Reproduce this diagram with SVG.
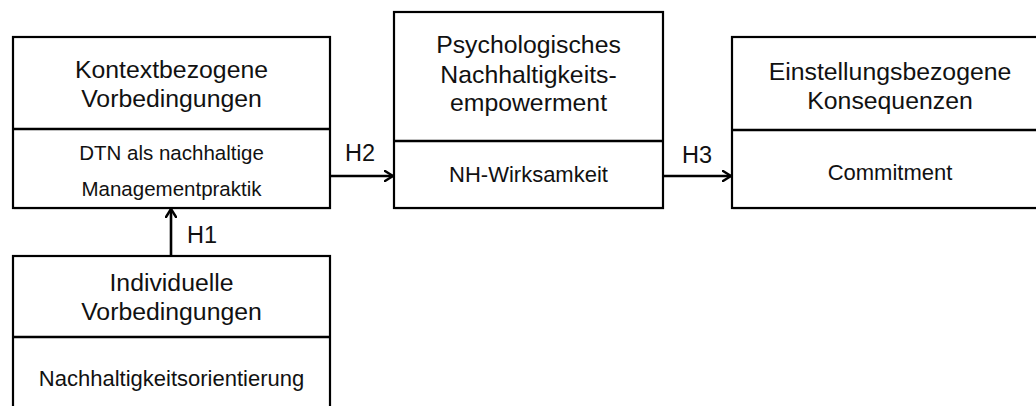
<svg xmlns="http://www.w3.org/2000/svg" width="1036" height="406" viewBox="0 0 1036 406">
  <defs>
    <marker id="arr" viewBox="0 0 10 12" refX="9" refY="6" markerWidth="10" markerHeight="12" markerUnits="userSpaceOnUse" orient="auto">
      <path d="M1,1 L9,6 L1,11" fill="none" stroke="#000" stroke-width="2.4" stroke-linecap="round" stroke-linejoin="round"/>
    </marker>
  </defs>
  <style>
    .box { fill: #fff; stroke: #000; stroke-width: 2.2; }
    .shadow { fill: #000; opacity: 0.12; }
    .div { stroke: #000; stroke-width: 2.6; }
    .t { font-family: "Liberation Sans", Arial, sans-serif; font-size: 24.8px; fill: #111; text-anchor: middle; }
    .s { font-family: "Liberation Sans", Arial, sans-serif; font-size: 22px; fill: #111; text-anchor: middle; }
    .s2 { font-family: "Liberation Sans", Arial, sans-serif; font-size: 20.5px; fill: #111; text-anchor: middle; }
    .h { font-family: "Liberation Sans", Arial, sans-serif; font-size: 23.5px; fill: #111; }
    .con { stroke: #000; stroke-width: 2.6; fill: none; }
  </style>
  <rect width="1036" height="406" fill="#fff"/>

  <g id="kontext">
    <rect class="shadow" x="14" y="38.5" width="317" height="171"/>
    <rect class="box" x="13" y="37" width="317" height="171"/>
    <line class="div" x1="13" y1="129" x2="330" y2="129"/>
    <text class="t" x="171.5" y="77.5">Kontextbezogene</text>
    <text class="t" x="171.5" y="106.5">Vorbedingungen</text>
    <text class="s2" x="171.5" y="159.5">DTN als nachhaltige</text>
    <text class="s2" x="171.5" y="195.5">Managementpraktik</text>
  </g>

  <g id="psych">
    <rect class="shadow" x="395" y="13.5" width="269" height="196"/>
    <rect class="box" x="394" y="12" width="269" height="196"/>
    <line class="div" x1="394" y1="141" x2="663" y2="141"/>
    <text class="t" x="528.5" y="53">Psychologisches</text>
    <text class="t" x="528.5" y="82.5">Nachhaltigkeits-</text>
    <text class="t" x="528.5" y="111">empowerment</text>
    <text class="s" x="528.5" y="182">NH-Wirksamkeit</text>
  </g>

  <g id="konsequenzen">
    <rect class="shadow" x="733" y="38.5" width="320" height="171"/>
    <rect class="box" x="732" y="37" width="320" height="171"/>
    <line class="div" x1="732" y1="130" x2="1052" y2="130"/>
    <text class="t" x="890" y="80">Einstellungsbezogene</text>
    <text class="t" x="890" y="109">Konsequenzen</text>
    <text class="s" x="890" y="180">Commitment</text>
  </g>

  <g id="individuell">
    <rect class="shadow" x="14" y="257.5" width="317" height="160"/>
    <rect class="box" x="13" y="256" width="317" height="160"/>
    <line class="div" x1="13" y1="337" x2="330" y2="337"/>
    <text class="t" x="171.5" y="291">Individuelle</text>
    <text class="t" x="171.5" y="320">Vorbedingungen</text>
    <text class="s" x="171.5" y="386">Nachhaltigkeitsorientierung</text>
  </g>

  <g id="connectors">
    <line class="con" x1="171" y1="256" x2="171" y2="209" marker-end="url(#arr)"/>
    <line class="con" x1="330" y1="176" x2="393" y2="176" marker-end="url(#arr)"/>
    <line class="con" x1="663" y1="176" x2="731" y2="176" marker-end="url(#arr)"/>
    <text class="h" x="187" y="243">H1</text>
    <text class="h" x="345" y="161">H2</text>
    <text class="h" x="682" y="163">H3</text>
  </g>
</svg>
